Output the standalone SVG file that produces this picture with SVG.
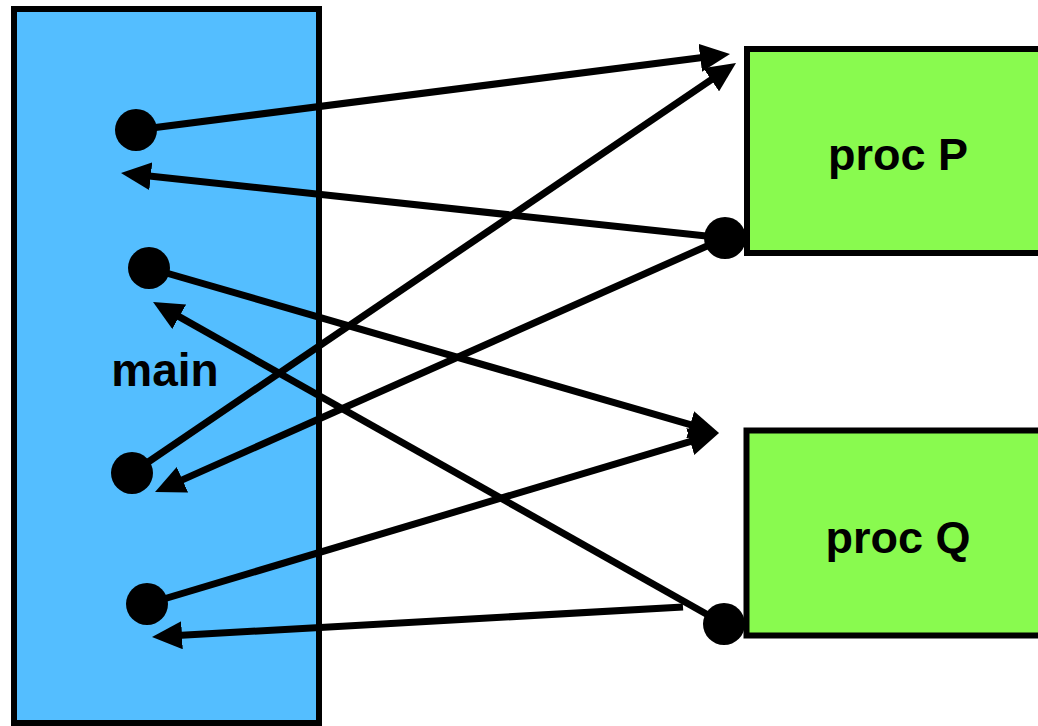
<svg xmlns="http://www.w3.org/2000/svg" width="1038" height="726" viewBox="0 0 1038 726">
  <style>
    .box { stroke: #000; stroke-width: 6; }
    .main { fill: #54BEFF; }
    .proc { fill: #89FA4F; }
    .lbl { font-family: "Liberation Sans", Arial, sans-serif; font-weight: bold; fill: #000; }
    .conn line { stroke: #000; stroke-width: 7; marker-end: url(#arrow); }
    .dot { fill: #000; }
  </style>
  <defs>
    <marker id="arrow" viewBox="0 0 30 28" refX="18" refY="14" markerWidth="30" markerHeight="28" markerUnits="userSpaceOnUse" orient="auto">
      <path d="M0,0 L30,14 L0,28 z" fill="#000"/>
    </marker>
  </defs>

  <g id="main">
    <rect class="box main" x="14" y="9" width="305" height="714"/>
    <text class="lbl" x="165" y="386" font-size="46" text-anchor="middle">main</text>
  </g>

  <g id="procP">
    <rect class="box proc" x="747" y="49" width="300" height="204"/>
    <text class="lbl" x="898" y="170" font-size="45" text-anchor="middle">proc P</text>
  </g>

  <g id="procQ">
    <rect class="box proc" x="746.5" y="430.5" width="300" height="205"/>
    <text class="lbl" x="898" y="553" font-size="45" text-anchor="middle">proc Q</text>
  </g>

  <g id="connectors" class="conn">
    <line x1="136" y1="130" x2="718.1" y2="55.5"/>
    <line x1="132" y1="473" x2="726.1" y2="69.7"/>
    <line x1="725" y1="238" x2="132.9" y2="174.3"/>
    <line x1="725" y1="238" x2="166" y2="487.1"/>
    <line x1="149" y1="268" x2="707.5" y2="429.7"/>
    <line x1="147" y1="604" x2="707.5" y2="436.4"/>
    <line x1="724" y1="624" x2="163.5" y2="307.9"/>
    <line x1="683" y1="607" x2="164" y2="636.3"/>
  </g>

  <g id="dots">
    <circle class="dot" cx="136" cy="130" r="21"/>
    <circle class="dot" cx="149" cy="268" r="21"/>
    <circle class="dot" cx="132" cy="473" r="21"/>
    <circle class="dot" cx="147" cy="604" r="21"/>
    <circle class="dot" cx="725" cy="238" r="21"/>
    <circle class="dot" cx="724" cy="624" r="21"/>
  </g>
</svg>
